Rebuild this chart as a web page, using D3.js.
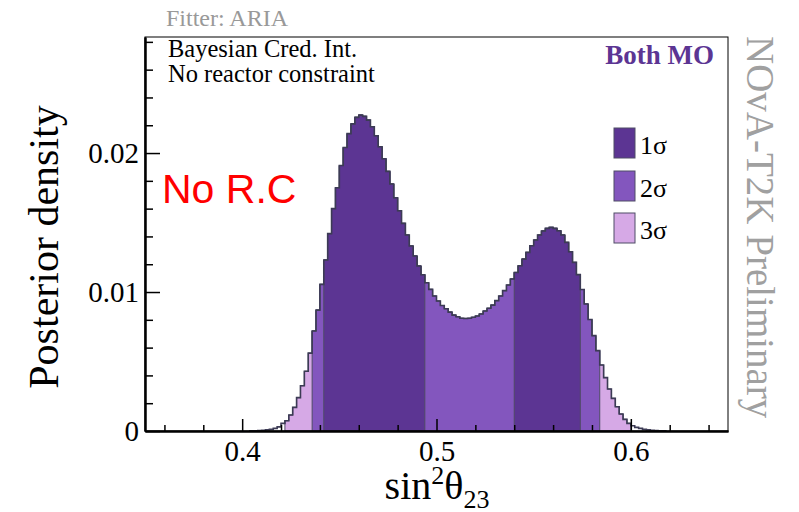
<!DOCTYPE html>
<html>
<head>
<meta charset="utf-8">
<script src="https://cdn.jsdelivr.net/npm/d3@7"></script>
<style>
  body { margin: 0; background: #fff; }
  svg { display: block; }
</style>
</head>
<body>
<svg id="chart" width="799" height="512"></svg>
<script>
// histogram of sin^2(theta23), bins of 0.002 starting at 0.404
const binStart = 0.404;
const binWidth = 0.002;
const density = [
  0.00001, 0.00002, 0.00003, 0.00005, 0.00008, 0.00012, 0.00019, 0.00030, 0.00055,
  0.00074, 0.00115, 0.00170, 0.00240, 0.00326, 0.00430, 0.00560, 0.00720, 0.00870,
  0.01055, 0.01230, 0.01420, 0.01600, 0.01750, 0.01910, 0.02040, 0.02140, 0.02210,
  0.02257, 0.02273, 0.02264, 0.02237, 0.02189, 0.02124, 0.02045, 0.01959, 0.01868,
  0.01777, 0.01678, 0.01585, 0.01494, 0.01410, 0.01331, 0.01259, 0.01187, 0.01124,
  0.01067, 0.01019, 0.00971, 0.00935, 0.00903, 0.00880, 0.00855, 0.00834, 0.00822,
  0.00811, 0.00810, 0.00811, 0.00818, 0.00827, 0.00842, 0.00863, 0.00883, 0.00906,
  0.00938, 0.00971, 0.01010, 0.01050, 0.01094, 0.01141, 0.01189, 0.01237, 0.01285,
  0.01333, 0.01374, 0.01410, 0.01439, 0.01458, 0.01465, 0.01458, 0.01441, 0.01410,
  0.01357, 0.01290, 0.01213, 0.01125, 0.01018, 0.00914, 0.00802, 0.00686, 0.00578,
  0.00475, 0.00384, 0.00302, 0.00235, 0.00175, 0.00122, 0.00084, 0.00055, 0.00038,
  0.00026, 0.00019, 0.00012, 0.00008, 0.00005, 0.00003, 0.00002, 0.00001
];

// credible intervals
const cred1 = [[0.442, 0.494], [0.540, 0.574]];
const cred2 = [[0.436, 0.584]];
const cred3 = [[0.422, 0.600]];

const levels = ["1σ", "2σ", "3σ"];
const levelColors = ["#5c3593", "#8356be", "#d6a9e6"];

const xMajor = [0.4, 0.5, 0.6];
const xMinor = [0.36, 0.38, 0.42, 0.44, 0.46, 0.48, 0.52, 0.54, 0.56, 0.58, 0.62, 0.64];
const yMajor = [0, 0.01, 0.02];
const yMinor = [0.002, 0.004, 0.006, 0.008, 0.012, 0.014, 0.016, 0.018, 0.022, 0.024, 0.026, 0.028];

const padL = 145, padR = 728, padT = 37, padB = 431;
const serif = "Liberation Serif";

const svg = d3.select("#chart");

const x = d3.scaleLinear().domain([0.35, 0.65]).range([padL, padR]);
const y = d3.scaleLinear().domain([0, 0.02835]).range([padB, padT]);

const bins = density.map((v, i) => ({
  x0: binStart + i * binWidth,
  x1: binStart + (i + 1) * binWidth,
  v: v
}));

function stepPath(sub, close) {
  let p = `M${x(sub[0].x0)},${y(0)}`;
  sub.forEach(b => {
    p += `L${x(b.x0)},${y(b.v)}L${x(b.x1)},${y(b.v)}`;
  });
  p += `L${x(sub[sub.length - 1].x1)},${y(0)}`;
  return close ? p + "Z" : p;
}

function inRange(lo, hi) {
  return bins.filter(b => b.x0 >= lo - 1e-9 && b.x1 <= hi + 1e-9);
}

// filled regions, widest first
[cred3, cred2, cred1].forEach((ranges, k) => {
  const col = levelColors[2 - k];
  ranges.forEach(r => {
    svg.append("path")
      .attr("d", stepPath(inRange(r[0], r[1]), true))
      .attr("fill", col)
      .attr("stroke", "#4f4c66")
      .attr("stroke-width", 1);
  });
});

// outline
svg.append("path")
  .attr("d", stepPath(bins, false))
  .attr("fill", "none")
  .attr("stroke", "#3c3b55")
  .attr("stroke-width", 1.6);

// frame
svg.append("rect")
  .attr("x", padL).attr("y", padT)
  .attr("width", padR - padL).attr("height", padB - padT)
  .attr("fill", "none").attr("stroke", "#000").attr("stroke-width", 1);

// axes, ticks point inward
svg.append("g")
  .attr("transform", `translate(0,${padB})`)
  .call(d3.axisBottom(x).tickValues(xMinor).tickSizeInner(-6).tickSizeOuter(0).tickFormat(""));

svg.append("g")
  .attr("class", "xaxis")
  .attr("transform", `translate(0,${padB})`)
  .call(d3.axisBottom(x).tickValues(xMajor).tickSizeInner(-12).tickSizeOuter(0)
    .tickPadding(9).tickFormat(d3.format(".1f")));

svg.append("g")
  .attr("transform", `translate(${padL},0)`)
  .call(d3.axisLeft(y).tickValues(yMinor).tickSizeInner(-8).tickSizeOuter(0).tickFormat(""));

svg.append("g")
  .attr("class", "yaxis")
  .attr("transform", `translate(${padL},0)`)
  .call(d3.axisLeft(y).tickValues(yMajor).tickSizeInner(-15).tickSizeOuter(0)
    .tickPadding(6).tickFormat(d => d === 0 ? "0" : d3.format(".2f")(d)));

svg.selectAll(".domain").attr("stroke", "#000").attr("stroke-width", 2);
svg.selectAll(".tick line").attr("stroke", "#000").attr("stroke-width", 1.5);
svg.selectAll(".xaxis, .yaxis").attr("font-family", serif);
svg.selectAll(".xaxis text, .yaxis text")
  .attr("font-family", serif)
  .attr("font-size", 29)
  .attr("fill", "#000");

// axis titles
svg.append("text")
  .attr("transform", "translate(58,247) rotate(-90)")
  .attr("text-anchor", "middle")
  .attr("font-family", serif)
  .attr("font-size", 42)
  .text("Posterior density");

const xt = svg.append("text")
  .attr("x", 437).attr("y", 499)
  .attr("text-anchor", "middle")
  .attr("font-family", serif)
  .attr("font-size", 40);
xt.append("tspan").text("sin");
xt.append("tspan").attr("dy", -15).attr("font-size", 26).text("2");
xt.append("tspan").attr("dy", 15).text("θ");
xt.append("tspan").attr("dy", 9).attr("font-size", 26).text("23");

// labels
function label(tx, ty, str, size, color) {
  return svg.append("text").attr("x", tx).attr("y", ty)
    .attr("font-family", serif).attr("font-size", size)
    .attr("fill", color || "#000").text(str);
}
label(166, 26, "Fitter: ARIA", 24, "#999");
label(168, 57, "Bayesian Cred. Int.", 24.5);
label(168, 82, "No reactor constraint", 24.5);
label(714, 64, "Both MO", 27, "#5c3593")
  .attr("text-anchor", "end").attr("font-weight", "bold");

svg.append("text").attr("x", 162).attr("y", 203)
  .attr("font-family", "Liberation Sans").attr("font-size", 41)
  .attr("fill", "#ff0000").text("No R.C");

svg.append("text")
  .attr("transform", "translate(747,36) rotate(90)")
  .attr("font-family", serif)
  .attr("font-size", 39).attr("fill", "#a0a0a0")
  .text("NOvA-T2K Preliminary");

// legend
const legendTop = [128, 171, 213];
levels.forEach((lab, i) => {
  svg.append("rect")
    .attr("x", 614).attr("y", legendTop[i])
    .attr("width", 21).attr("height", 30)
    .attr("fill", levelColors[i]).attr("stroke", "#4f4c66").attr("stroke-width", 1);
  label(640, legendTop[i] + 26, lab, 26);
});
</script>
</body>
</html>
